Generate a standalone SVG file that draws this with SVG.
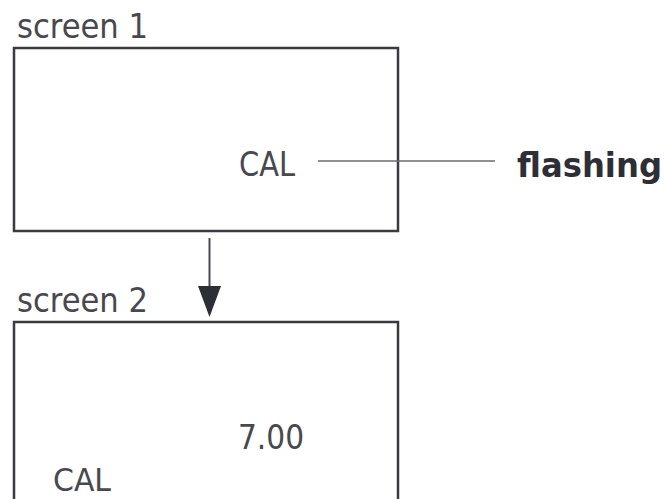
<svg xmlns="http://www.w3.org/2000/svg" width="666" height="499" viewBox="0 0 666 499">
  <style>
    .box { fill: none; stroke: #3a3a40; stroke-width: 2.5; }
    .lbl { font-family: "DejaVu Sans Condensed", "DejaVu Sans", "Liberation Sans", sans-serif; fill: #48484e; font-size: 34px; }
    .flash { font-family: "DejaVu Sans Condensed", "DejaVu Sans", "Liberation Sans", sans-serif; font-weight: bold; font-size: 34px; fill: #2e2e36; }
    .conn { stroke: #6a6a70; stroke-width: 1.5; fill: none; }
    .arrow { stroke: #4a4a50; stroke-width: 2; fill: none; }
    .head { fill: #2e2e36; }
  </style>
  <rect width="666" height="499" fill="#ffffff"/>
  <g id="screen1">
    <text class="lbl" x="17" y="38" textLength="131" lengthAdjust="spacingAndGlyphs">screen 1</text>
    <rect class="box" x="14" y="48" width="384" height="183"/>
    <text class="lbl" x="239" y="176" textLength="56" lengthAdjust="spacingAndGlyphs">CAL</text>
  </g>
  <g id="flashing">
    <text class="flash" x="517" y="177" textLength="145" lengthAdjust="spacingAndGlyphs">flashing</text>
  </g>
  <g id="screen2">
    <text class="lbl" x="17" y="312" textLength="131" lengthAdjust="spacingAndGlyphs">screen 2</text>
    <rect class="box" x="14" y="322" width="384" height="200"/>
    <text class="lbl" x="238" y="449" textLength="66" lengthAdjust="spacingAndGlyphs">7.00</text>
    <text class="lbl" x="53" y="491" style="font-size:32px" textLength="58" lengthAdjust="spacingAndGlyphs">CAL</text>
  </g>
  <g id="connectors">
    <line class="conn" x1="318" y1="161" x2="495" y2="161"/>
    <line class="arrow" x1="209.5" y1="238" x2="209.5" y2="290"/>
    <polygon class="head" points="198,286 221,286 209.5,317"/>
  </g>
</svg>
